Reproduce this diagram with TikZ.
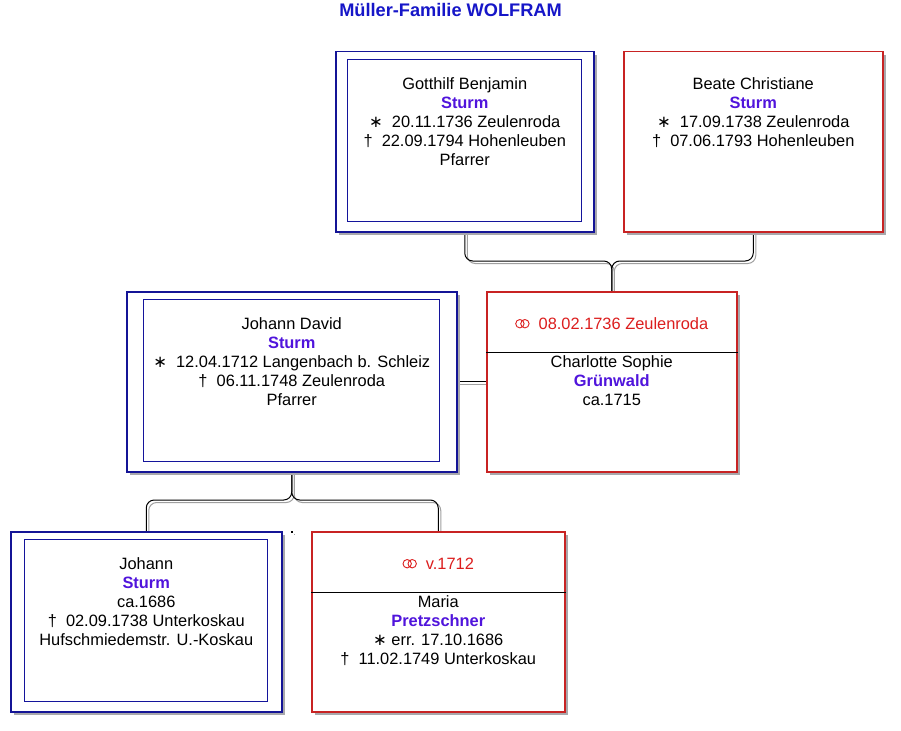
\documentclass[tikz,border=0pt]{standalone}
\usepackage{fontspec}
\setmainfont{Liberation Sans}
\newfontfamily\symf{DejaVu Sans}
\usetikzlibrary{shadows,calc,backgrounds}
\definecolor{titlec}{RGB}{22,22,200}
\definecolor{bluec}{RGB}{20,20,150}
\definecolor{innerc}{RGB}{20,20,155}
\definecolor{redc}{RGB}{200,35,35}
\definecolor{namec}{RGB}{80,20,220}
\definecolor{marc}{RGB}{220,30,30}
\definecolor{shadc}{RGB}{168,168,172}
\definecolor{lshad}{RGB}{160,160,160}
\newcommand\bstar{{\symf\char"2217}}
\newcommand\ringsym{\tikz[baseline=0pt,x=1pt,y=1pt]{\draw[draw=marc,line width=0.9pt] (4.5,5.5) circle[radius=4.2] (9.5,5.5) circle[radius=4.2];}}
\newcommand\nm[1]{{\bfseries\color{namec}#1}}
\newcommand\mar[1]{{\color{marc}\ringsym\ \ #1}}
\tikzset{
  pbox/.style={line width=1.5pt, fill=white, anchor=north west, inner sep=0pt,
    drop shadow={shadow xshift=3.5pt, shadow yshift=-3.5pt, fill=shadc, opacity=1}},
  mbox/.style={pbox, draw=bluec},
  fbox/.style={pbox, draw=redc},
  ibox/.style={draw=innerc, line width=1pt, anchor=north west, inner sep=0pt},
  txt/.style={anchor=north, align=center, inner sep=0pt, font=\fontsize{16.4}{19}\selectfont},
  conn/.style={line width=1pt, rounded corners=8pt},
  sepl/.style={line width=1pt, black}
}
\begin{document}
\begin{tikzpicture}[x=1pt,y=-1pt]
\useasboundingbox (0,0) rectangle (901,730);
\node[anchor=base, font=\bfseries\fontsize{18.2}{20}\selectfont, text=titlec] (title) at (450.5,17) {Müller-Familie WOLFRAM};
% boxes
\node[mbox, minimum width=258pt, minimum height=180pt] (gb) at (335,51) {};
\node[ibox, minimum width=234pt, minimum height=162pt] (gbi) at (347,59) {};
\node[fbox, minimum width=259pt, minimum height=180pt] (bc) at (623,51) {};
\node[mbox, minimum width=330pt, minimum height=180pt] (jd) at (126,291) {};
\node[ibox, minimum width=296pt, minimum height=162pt] (jdi) at (143,299) {};
\node[fbox, minimum width=250pt, minimum height=180pt] (cs) at (486,291) {};
\node[mbox, minimum width=271pt, minimum height=180pt] (j) at (10,531) {};
\node[ibox, minimum width=243pt, minimum height=162pt] (ji) at (23.5,539) {};
\node[fbox, minimum width=253pt, minimum height=180pt] (m) at (311,531) {};
% separators
\coordinate (s1) at (0,352);
\coordinate (s2) at (0,592);
\draw[sepl] (cs.west |- s1) -- (cs.east |- s1);
\draw[sepl] (m.west |- s2) -- (m.east |- s2);
% texts
\node[txt] (gbt) at ($(gb.north)+(0,24)$) {\rule{0pt}{14pt}Gotthilf Benjamin\\ \nm{Sturm}\\ \bstar\ \ 20.11.1736 Zeulenroda\\ †\ \ 22.09.1794 Hohenleuben\\ Pfarrer};
\node[txt] (bct) at ($(bc.north)+(0,24)$) {\rule{0pt}{14pt}Beate Christiane\\ \nm{Sturm}\\ \bstar\ \ 17.09.1738 Zeulenroda\\ †\ \ 07.06.1793 Hohenleuben};
\node[txt] (jdt) at ($(jd.north)+(0,24)$) {\rule{0pt}{14pt}Johann David\\ \nm{Sturm}\\ \bstar\ \ 12.04.1712 Langenbach b. Schleiz\\ †\ \ 06.11.1748 Zeulenroda\\ Pfarrer};
\node[txt] (cst) at ($(cs.north)+(0,24)$) {\rule{0pt}{14pt}\mar{08.02.1736 Zeulenroda}\\ \rule{0pt}{10pt}\\ Charlotte Sophie\\ \nm{Grünwald}\\ ca.1715};
\node[txt] (jt) at ($(j.north)+(0,24)$) {\rule{0pt}{14pt}Johann\\ \nm{Sturm}\\ ca.1686\\ †\ \ 02.09.1738 Unterkoskau\\ Hufschmiedemstr. U.-Koskau};
\node[txt] (mt) at ($(m.north)+(0,24)$) {\rule{0pt}{14pt}\mar{v.1712}\\ \rule{0pt}{10pt}\\ Maria\\ \nm{Pretzschner}\\ \bstar\ err. 17.10.1686\\ †\ \ 11.02.1749 Unterkoskau};
% connectors
\coordinate (ya) at (0,261);
\coordinate (yb) at (0,500);
\begin{scope}[on background layer]
  \fill[white] (0,0) rectangle (901,730);
  \begin{scope}[transform canvas={xshift=2.5pt,yshift=-2.5pt}]
    \draw[conn, draw=lshad] (gb.south) |- (cs.north |- ya) -- (cs.north);
    \draw[conn, draw=lshad] (bc.south) |- (cs.north |- ya) -- (cs.north);
    \draw[conn, draw=lshad] (jd.east) -- (cs.west);
    \draw[conn, draw=lshad] (j.north) |- (jd.south |- yb) -- (jd.south);
    \draw[conn, draw=lshad] (m.north) |- (jd.south |- yb) -- (jd.south);
    \fill[lshad] (291,531) rectangle (292.5,532.5);
  \end{scope}
  \draw[conn] (gb.south) |- (cs.north |- ya) -- (cs.north);
  \draw[conn] (bc.south) |- (cs.north |- ya) -- (cs.north);
  \draw[conn] (jd.east) -- (cs.west);
  \draw[conn] (j.north) |- (jd.south |- yb) -- (jd.south);
  \draw[conn] (m.north) |- (jd.south |- yb) -- (jd.south);
  \fill[black] (291,531) rectangle (292.5,532.5);
\end{scope}
\end{tikzpicture}
\end{document}
